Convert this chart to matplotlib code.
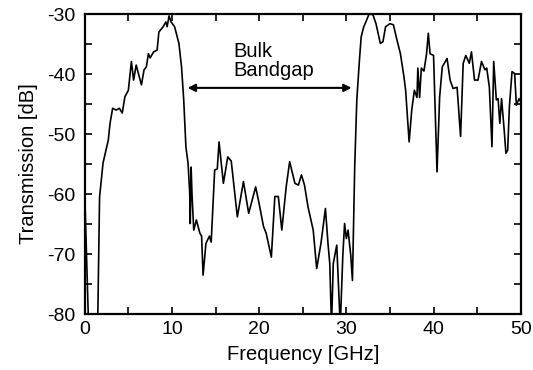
import numpy as np
import matplotlib.pyplot as plt
from matplotlib.ticker import MultipleLocator

# transmission spectrum
freq = [0.0, 0.4, 0.6, 1.3, 1.5, 1.7, 2.1, 2.7, 2.9, 3.2, 3.6, 3.97, 4.3, 4.6, 5.0,
        5.35, 5.6, 5.9, 6.5, 6.8, 7.07, 7.3, 7.5, 7.9, 8.3, 8.5, 9.0, 9.3, 9.45,
        9.67, 9.9, 10.3, 10.8, 11.1, 11.35, 11.6, 11.85, 12.04, 12.1, 12.2, 12.3,
        12.5, 12.8, 13.2, 13.4, 13.57, 13.9, 14.3, 14.5, 14.9, 15.2, 15.4, 15.9,
        16.4, 16.8, 17.5, 18.2, 18.8, 19.6, 20.0, 20.5, 20.8, 21.4, 21.8, 22.2,
        22.6, 23.1, 23.5, 24.1, 24.5, 24.85, 25.2, 25.6, 26.2, 26.6, 27.1, 27.6,
        27.9, 28.1, 28.3, 28.5, 28.9, 29.3, 29.6, 29.8, 30.0, 30.2, 30.5, 30.7,
        30.96, 31.2, 31.5, 31.7, 32.0, 32.3, 32.6, 33.05, 33.4, 33.9, 34.2, 34.5,
        35.0, 35.4, 35.8, 36.2, 36.6, 36.8, 37.2, 37.5, 37.8, 38.1, 38.2, 38.4,
        38.6, 38.9, 39.2, 39.4, 39.6, 40.0, 40.2, 40.4, 40.7, 41.0, 41.2, 41.55,
        41.9, 42.24, 42.7, 43.1, 43.4, 43.7, 44.1, 44.35, 44.7, 45.1, 45.5, 45.9,
        46.1, 46.4, 46.7, 46.9, 47.2, 47.4, 47.6, 47.8, 48.1, 48.3, 48.5, 48.7,
        49.0, 49.3, 49.5, 49.8, 50.0]
trans = [-60, -80, -85, -85, -80, -60.5, -54.8, -51, -48.2, -45.7, -46, -45.7, -46.5,
         -43.8, -42.7, -37.9, -41, -38.5, -41.8, -39.3, -38.8, -36.6, -37.3, -36.3,
         -36, -33, -32.1, -31.3, -32.1, -30.3, -31.3, -32.1, -34.9, -38.8, -44.3,
         -52.1, -54.9, -59.9, -64.9, -55.5, -60, -66, -64.3, -66.5, -67, -73.5,
         -68.2, -67, -68, -56, -55.8, -51.3, -58.2, -53.8, -54.5, -63.8, -57.9,
         -63.2, -58.8, -61.6, -65.4, -66.5, -70.5, -60.4, -60.4, -66, -58.8, -54.6,
         -58.2, -58.5, -56.8, -58.5, -62.1, -66, -72.4, -68.1, -62.4, -68.3, -71.6,
         -82, -71.6, -68.5, -82, -70.1, -64.9, -67.4, -66, -70.1, -74.4, -55.4,
         -44.3, -37.7, -33.8, -32.1, -31.1, -30, -30.1, -31.6, -34.9, -34.6, -32.1,
         -31.6, -31.8, -34.3, -36.6, -40.4, -42.7, -51.3, -46, -42.7, -43.9, -39,
         -43.9, -39, -39.5, -36.6, -33.2, -36.6, -36.9, -46.6, -56.3, -43.8, -38.8,
         -38.3, -37.4, -41, -42.4, -42.2, -50.4, -38.2, -36.9, -38.2, -36.3, -41,
         -41, -37.9, -39.3, -39, -42.2, -52.1, -37.9, -44.3, -44.1, -48.2, -44.1,
         -49.3, -53.2, -52.7, -45.4, -39.6, -39.9, -45.2, -44.1, -44.6]

gap_start = 11.8
gap_end = 30.6
gap_level = -42.3

plt.rcParams['font.family'] = ['Liberation Sans', 'DejaVu Sans']
plt.rcParams['axes.unicode_minus'] = False

fig = plt.figure(figsize=(5.33, 3.70), dpi=100)
ax = fig.add_axes([0.159, 0.151, 0.818, 0.811])

ax.plot(freq, trans, color="black", linewidth=1.2)

# bandgap arrow and label
ax.annotate("", xy=(gap_start, gap_level), xytext=(gap_end, gap_level),
            arrowprops=dict(arrowstyle="<|-|>", color="black", lw=1.5,
                            mutation_scale=11, shrinkA=0, shrinkB=0))
ax.text(17.0, -41.0, "Bulk\nBandgap", fontsize=14.5, ha="left", va="bottom",
        linespacing=1.0)

ax.set_xlim(0, 50)
ax.set_ylim(-80, -30)
ax.xaxis.set_major_locator(MultipleLocator(10))
ax.xaxis.set_minor_locator(MultipleLocator(5))
ax.yaxis.set_major_locator(MultipleLocator(10))
ax.yaxis.set_minor_locator(MultipleLocator(5))
ax.tick_params(which="both", direction="in", top=True, right=True,
               labelsize=14, width=1.2)
ax.tick_params(which="minor", length=5)
ax.tick_params(axis="x", which="major", length=5, pad=5)
ax.tick_params(axis="y", which="major", length=5, pad=7)
for s in ax.spines.values():
    s.set_linewidth(1.6)

ax.set_xlabel("Frequency [GHz]", fontsize=14.5, labelpad=5)
ax.set_ylabel("Transmission [dB]", fontsize=14.5, labelpad=6)

fig.savefig("out.png", dpi=100)
